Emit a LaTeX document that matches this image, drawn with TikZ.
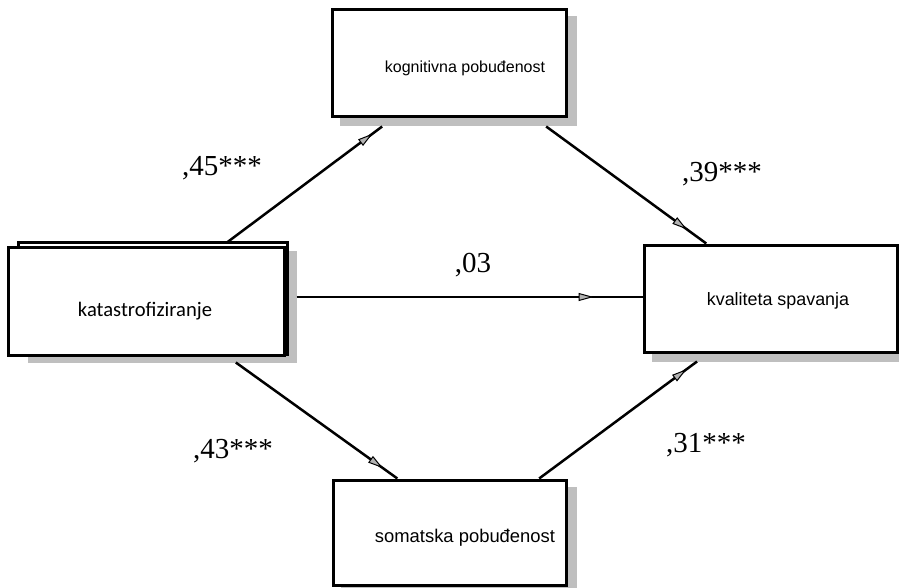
\documentclass[tikz,border=0pt]{standalone}
\usepackage{fontspec}
\setmainfont{Liberation Serif}
\newfontfamily\arialf{Liberation Sans}
\newfontfamily\calf{Carlito}
\usetikzlibrary{calc,decorations.markings,arrows.meta}
\pgfdeclarelayer{bgl}
\pgfdeclarelayer{shad}
\pgfdeclarelayer{backbox}
\pgfsetlayers{bgl,shad,backbox,main}
\begin{document}
\begin{tikzpicture}[x=1pt,y=-1pt,
  box/.style={draw=black, line width=3pt, fill=white, inner sep=0pt},
  shadowc/.style={fill=black!25},
  coef/.style={font=\fontsize{29}{29}\selectfont, anchor=base, inner sep=0pt},
  btext/.style={anchor=base, inner sep=0pt},
  tipmark/.style={decoration={markings, mark=at position #1 with {\arrow{Triangle[length=15pt,width=8pt,fill=black!30,line width=1pt]}}}, postaction={decorate}},
  conn/.style={draw=black, line width=2.5pt}
]
\useasboundingbox (0,0) rectangle (899,588);
\begin{pgfonlayer}{bgl}
\fill[white] (0,0) rectangle (899,588);
\end{pgfonlayer}

% boxes
\node[box, minimum width=276pt, minimum height=108pt] (kat) at (146,301) {};
\node[box, minimum width=234pt, minimum height=107pt] (kog) at (449,63.5) {};
\node[box, minimum width=233pt, minimum height=105pt] (som) at (449.5,532.5) {};
\node[box, minimum width=253pt, minimum height=107pt] (kva) at (770.5,298.5) {};

% back box and shadows
\begin{pgfonlayer}{backbox}
\draw[line width=3pt, fill=white] ([shift={(12pt,3pt)}]kat.north west) coordinate (kbnw) rectangle ([shift={(2pt,2pt)}]kat.south east) coordinate (kbse);
\end{pgfonlayer}
\begin{pgfonlayer}{shad}
\fill[shadowc] ([shift={(9pt,-8pt)}]kbnw) rectangle ([shift={(9pt,-8pt)}]kbse);
\fill[shadowc] ([shift={(9pt,-8pt)}]kog.north west) rectangle ([shift={(9pt,-8pt)}]kog.south east);
\fill[shadowc] ([shift={(9pt,-8pt)}]som.north west) rectangle ([shift={(9pt,-8pt)}]som.south east);
\fill[shadowc] ([shift={(9pt,-8pt)}]kva.north west) rectangle ([shift={(9pt,-8pt)}]kva.south east);
\end{pgfonlayer}

% box texts
\node[btext, font=\calf\fontsize{20.6}{20.6}\selectfont] (katt) at (145,316) {katastrofiziranje};
\node[btext, font=\arialf\fontsize{16}{16}\selectfont] (kogt) at (465,73) {kognitivna pobuđenost};
\node[btext, font=\arialf\fontsize{18.4}{18.4}\selectfont] (somt) at (465,542) {somatska pobuđenost};
\node[btext, font=\arialf\fontsize{17.9}{17.9}\selectfont] (kvat) at (778,305) {kvaliteta spavanja};

% connector end points
\coordinate (c1s) at ([yshift=3pt]$(kat.north west)!0.790!(kat.north east)$);
\coordinate (c1e) at ([yshift=-8pt]$(kog.south west)!0.218!(kog.south east)$);
\coordinate (c2s) at ([yshift=-8pt]$(kog.south west)!0.910!(kog.south east)$);
\coordinate (c2e) at ($(kva.north west)!0.249!(kva.north east)$);
\coordinate (c3s) at ([shift={(11pt,4pt)}]kat.east);
\coordinate (c3e) at ([yshift=1.5pt]kva.west);
\coordinate (c4s) at ([yshift=-6pt]$(kat.south west)!0.822!(kat.south east)$);
\coordinate (c4e) at ($(som.north west)!0.279!(som.north east)$);
\coordinate (c5s) at ($(som.north west)!0.880!(som.north east)$);
\coordinate (c5e) at ([yshift=-8pt]$(kva.south west)!0.213!(kva.south east)$);

\draw[conn, tipmark=-12pt] (c1s) -- (c1e);
\draw[conn, tipmark=-24pt] (c2s) -- (c2e);
\draw[conn, tipmark=-49pt] (c3s) -- (c3e);
\draw[conn, tipmark=-18pt] (c4s) -- (c4e);
\draw[conn, tipmark=-13pt] (c5s) -- (c5e);

% coefficients
\node[coef] (l1) at (222,176) {,45***};
\node[coef] (l2) at (722,182) {,39***};
\node[coef] (l3) at (473,272) {,03};
\node[coef] (l4) at (233,458) {,43***};
\node[coef] (l5) at (706,452) {,31***};
\end{tikzpicture}
\end{document}
